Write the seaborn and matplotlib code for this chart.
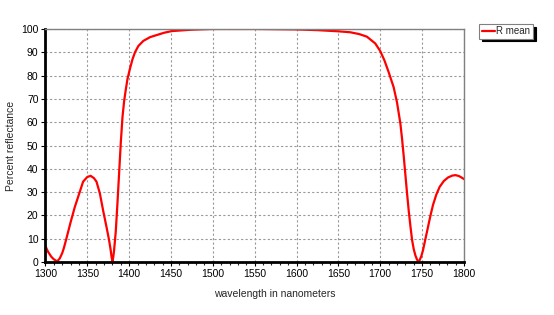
import matplotlib
matplotlib.use('Agg')
import matplotlib.pyplot as plt
import numpy as np
import pandas as pd
import seaborn as sns
from matplotlib.ticker import MultipleLocator

# values
wavelength = [1300, 1303, 1307, 1310, 1314, 1317, 1320, 1322, 1325, 1330, 1335,
              1340, 1345, 1350, 1354, 1358, 1361, 1365, 1369, 1373, 1376, 1378,
              1379, 1380, 1381, 1382, 1384, 1386, 1388, 1390, 1392, 1394, 1396,
              1398, 1401, 1404, 1407, 1411, 1417, 1425, 1433, 1442, 1451, 1475,
              1500, 1550, 1600, 1625, 1650, 1664, 1675, 1684, 1694, 1700, 1705,
              1710, 1716, 1720, 1724, 1726, 1728, 1730, 1732, 1734, 1736, 1738,
              1740, 1742, 1744, 1745.5, 1747, 1749, 1751, 1754, 1757, 1760, 1763,
              1767, 1771, 1776, 1781, 1786, 1790, 1794, 1797, 1800]
reflectance = [6.9, 4.5, 2.3, 1.2, 0.3, 1.5, 3.8, 6, 10, 17, 23.5,
               29, 34.5, 36.5, 37, 36, 34.5, 29.5, 22, 15, 9.5, 5,
               2.2, 0.3, 2, 5, 13, 25, 38, 51, 62, 69, 74,
               78.5, 83, 87, 90, 92.7, 94.9, 96.5, 97.4, 98.4, 99.1, 99.7,
               100, 100, 99.8, 99.5, 99, 98.6, 97.8, 96.7, 93.8, 90.5, 86.5,
               81.5, 75, 68.5, 59.5, 53, 45.5, 37.5, 29.5, 22, 15.5, 9.5,
               5.5, 2.8, 1, 0.3, 0.8, 2.5, 5, 10, 15, 20, 24.5,
               29, 32.3, 34.8, 36.3, 37.1, 37.3, 36.9, 36.3, 35.6]

df = pd.DataFrame({'wavelength': wavelength, 'R mean': reflectance})

sns.set_style('white')
plt.rcParams['font.family'] = ['Liberation Sans', 'DejaVu Sans']

fig = plt.figure(figsize=(5.54, 3.15), dpi=100)
ax = fig.add_axes([0.082, 0.168, 0.7555, 0.74])

sns.lineplot(data=df, x='wavelength', y='R mean', color='#ff0000', lw=1.6,
             label='R mean', ax=ax)

ax.set_xlim(1300, 1800)
ax.set_ylim(0, 100)
ax.set_xticks(np.arange(1300, 1801, 50))
ax.set_yticks(np.arange(0, 101, 10))
ax.xaxis.set_minor_locator(MultipleLocator(10))
ax.grid(True, which='major', color='#999999', linestyle=(0, (2, 2)), lw=0.8)
ax.tick_params(which='major', labelsize=7.5, length=3, width=0.8, pad=2,
               colors='black', left=True, bottom=True)
ax.tick_params(which='minor', axis='x', length=2, width=0.8, bottom=True)

for side in ('left', 'bottom'):
    ax.spines[side].set_color('black')
    ax.spines[side].set_linewidth(2)
for side in ('top', 'right'):
    ax.spines[side].set_color('#808080')
    ax.spines[side].set_linewidth(1)

ax.set_xlabel('wavelength in nanometers', fontsize=7.5, labelpad=6)
ax.xaxis.set_label_coords(0.548, -0.115)
ax.set_ylabel('Percent reflectance', fontsize=7.5, labelpad=4)

leg = ax.legend(loc='upper left', bbox_to_anchor=(1.037, 1.022), fontsize=7,
                frameon=True, fancybox=False,
                shadow={'color': 'black', 'alpha': 1},
                borderpad=0.25, handlelength=1.3, handletextpad=0.2,
                borderaxespad=0)
leg.get_frame().set_edgecolor('#808080')
leg.get_frame().set_linewidth(0.8)
leg.get_frame().set_alpha(1)

fig.savefig('out.png', dpi=100)
